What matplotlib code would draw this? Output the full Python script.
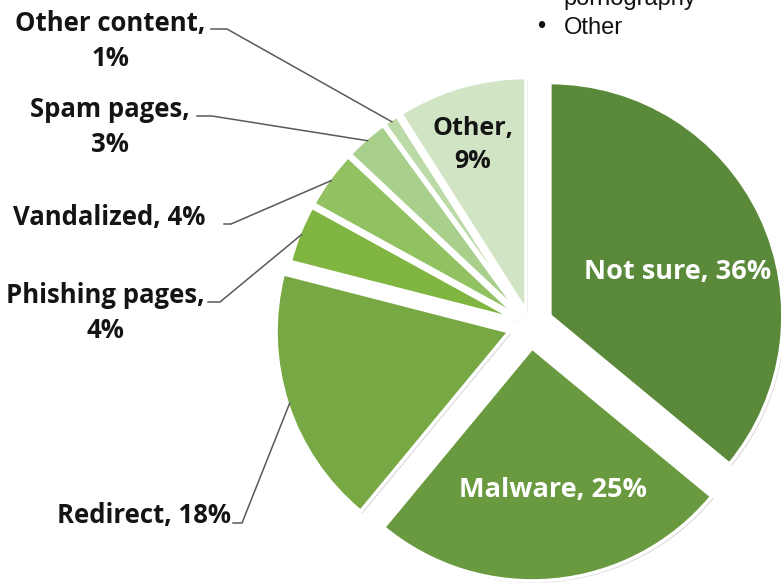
import numpy as np
import matplotlib
matplotlib.use("Agg")
import matplotlib.pyplot as plt
import matplotlib.patheffects as pe

# slice data, clockwise from 12 o'clock
categories = ["Not sure", "Malware", "Redirect", "Phishing pages", "Vandalized",
              "Spam pages", "Other content", "Other"]
shares = [36, 25, 18, 4, 4, 3, 1, 9]
slice_colors = ["#5b893a", "#6a9a3f", "#78a843", "#80b541", "#92c162",
                "#a9cf8c", "#bcd9a8", "#d1e4c4"]
explode = [22, 23, 22, 15, 15, 15, 15, 15]

W, H = 781, 585
fig = plt.figure(figsize=(W / 100, H / 100), dpi=100)
ax = fig.add_axes([0, 0, 1, 1])

R = 233
wedges, _ = ax.pie(shares, explode=explode, radius=R, center=(530, H - 325),
                   startangle=90, counterclock=False, colors=slice_colors,
                   wedgeprops=dict(edgecolor="white", linewidth=2.5))
for w in wedges:
    w.set_path_effects([pe.SimplePatchShadow(offset=(1.5, -1.5), shadow_rgbFace="#999999", alpha=0.35),
                        pe.Normal()])
ax.set_xlim(0, W)
ax.set_ylim(0, H)
ax.set_aspect("equal")
ax.axis("off")

lbl_font = dict(family=["Open Sans", "DejaVu Sans"], fontweight="bold")
txt_col = "#141414"


def py(y):
    return H - y


def tip(i, frac=1.0):
    w = wedges[i]
    mid = np.deg2rad((w.theta1 + w.theta2) / 2)
    cx, cy = w.center
    return cx + frac * w.r * np.cos(mid), cy + frac * w.r * np.sin(mid)


# labels inside slices
ax.text(678, py(272), f"{categories[0]}, {shares[0]}%", color="white", fontsize=19.5,
        ha="center", va="center", **lbl_font)
ax.text(553, py(490), f"{categories[1]}, {shares[1]}%", color="white", fontsize=19.5,
        ha="center", va="center", **lbl_font)
ax.text(473, py(145), f"{categories[7]},\n{shares[7]}%", color=txt_col, fontsize=18,
        ha="center", va="center", linespacing=1.42, **lbl_font)

# outside labels with leader lines: (index, text centre, line start, elbow, two lines?)
outside = [
    (6, (110, 41), (211, 29), (227, 29), True),
    (5, (110, 127), (197, 116), (212, 116), True),
    (4, (109, 217), (224, 224), (231, 224), False),
    (3, (105, 313), (208, 302), (220, 302), True),
    (2, (144, 516), (233, 523), (242, 523), False),
]
for i, (cx, cy), (x0, y0), (x1, y1), two_lines in outside:
    sep = "\n" if two_lines else " "
    ax.text(cx, py(cy), f"{categories[i]},{sep}{shares[i]}%", color=txt_col, fontsize=18.5,
            ha="center", va="center", linespacing=1.42, **lbl_font)
    tx, ty = tip(i, 0.99)
    ax.plot([x0, x1, tx], [py(y0), py(y1), ty], color="#595959", lw=1.1,
            solid_joinstyle="miter")

# bullet list from the slide text on the upper right
bfont = dict(fontsize=17, family=["Liberation Sans", "DejaVu Sans"], color="#111111")
ax.text(563, py(5), "pornography", ha="left", va="baseline", **bfont)
ax.text(541, py(33), "\u2022", ha="center", va="baseline", **bfont)
ax.text(564, py(34), "Other", ha="left", va="baseline", **bfont)

fig.savefig("out.png", dpi=100)
